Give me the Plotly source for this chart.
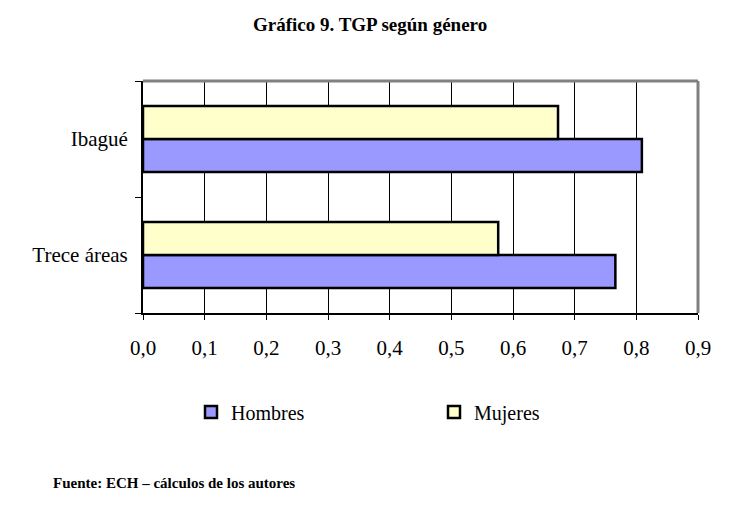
import plotly.graph_objects as go

categories = ["Trece áreas", "Ibagué"]
hombres = [0.766, 0.809]
mujeres = [0.576, 0.673]
x_ticks = [0.0, 0.1, 0.2, 0.3, 0.4, 0.5, 0.6, 0.7, 0.8, 0.9]

serif = "Liberation Serif"

# plot area in page pixels: x 143..698, y 81..313 (page body has 8px offset)
PW, PH = 555, 232

def px(xp):
    return (xp - 143) / PW

def py(yp):
    return (313 - yp) / PH

fig = go.Figure()
fig.add_trace(go.Bar(y=categories, x=hombres, name="Hombres", orientation="h",
                     legend="legend",
                     marker=dict(color="#9999FF", line=dict(color="black", width=2.5))))
fig.add_trace(go.Bar(y=categories, x=mujeres, name="Mujeres", orientation="h",
                     legend="legend2",
                     marker=dict(color="#FFFFCC", line=dict(color="black", width=2.5))))

fig.update_layout(
    width=730, height=519,
    margin=dict(l=135, r=40, t=73, b=214),
    paper_bgcolor="white", plot_bgcolor="white",
    barmode="group", bargap=0.43, bargroupgap=0,
    separators=",.",
    font=dict(family=serif, color="black", size=20),
    showlegend=True,
    legend=dict(x=px(191), y=py(412), xanchor="left", yanchor="middle",
                font=dict(size=20, family=serif), itemwidth=30, bgcolor="rgba(0,0,0,0)"),
    legend2=dict(x=px(434), y=py(412), xanchor="left", yanchor="middle",
                 font=dict(size=20, family=serif), itemwidth=30, bgcolor="rgba(0,0,0,0)"),
    annotations=[
        dict(text="<b>Gráfico 9. TGP según género</b>", xref="paper", yref="paper",
             x=px(370), y=py(25), showarrow=False,
             font=dict(size=19, family=serif), xanchor="center", yanchor="middle"),
        dict(text="<b>Fuente: ECH – cálculos de los autores</b>", xref="paper", yref="paper",
             x=px(51), y=py(483), showarrow=False,
             font=dict(size=15, family=serif), xanchor="left", yanchor="middle"),
    ],
    shapes=[
        dict(type="line", xref="paper", yref="paper", x0=0, x1=1, y0=1, y1=1,
             line=dict(color="#808080", width=3)),
        dict(type="line", xref="paper", yref="paper", x0=1, x1=1, y0=0, y1=1,
             line=dict(color="#808080", width=3)),
    ],
)
fig.update_xaxes(range=[0, 0.9], tickvals=x_ticks, tickformat=".1f",
                 showgrid=True, gridcolor="black", gridwidth=1,
                 showline=True, linecolor="black", linewidth=2,
                 ticks="outside", ticklen=5, tickcolor="black",
                 ticklabelstandoff=10, zeroline=False,
                 tickfont=dict(size=21, family=serif))
fig.update_yaxes(showline=True, linecolor="black", linewidth=2,
                 ticks="outside", ticklen=6, tickcolor="black", tickson="boundaries",
                 showgrid=False, tickfont=dict(size=21, family=serif),
                 ticklabelstandoff=9)

fig.write_html("out.html")
